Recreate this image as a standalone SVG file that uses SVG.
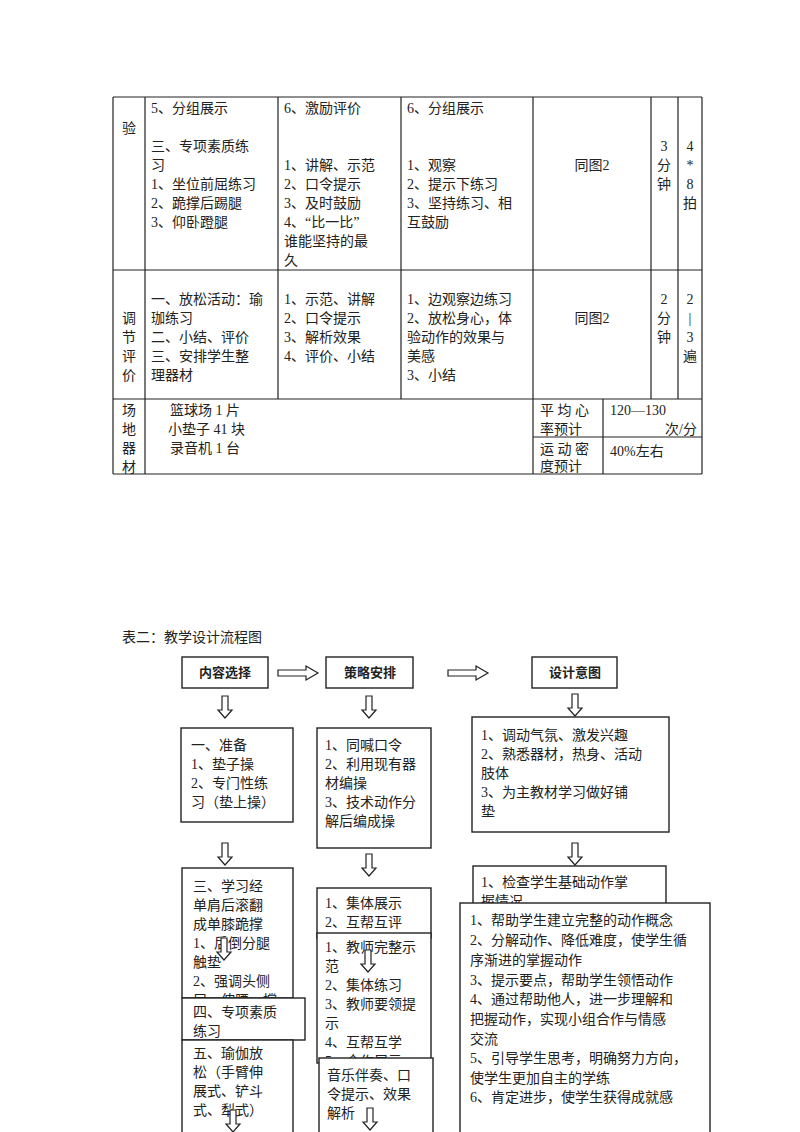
<svg xmlns="http://www.w3.org/2000/svg" width="800" height="1132" viewBox="0 0 800 1132">
<defs>
<style>
text{font-family:"Liberation Serif","Noto Sans CJK SC",serif;font-size:14px;fill:#222}
.b{font-weight:bold;font-family:"Liberation Sans","Noto Sans CJK SC",sans-serif;font-size:13px}
.l{stroke:#222;stroke-width:1.2;fill:none}
.bx{stroke:#222;stroke-width:1.4;fill:#fff}
.ar{stroke:#222;stroke-width:1.2;fill:#fff}
</style>
<clipPath id="ca2"><rect x="182" y="868" width="112" height="130"/></clipPath>
<clipPath id="cb3"><rect x="317" y="933" width="115" height="125"/></clipPath>
<clipPath id="cc2"><rect x="473" y="866" width="194" height="37"/></clipPath>
<path id="da" d="M-3,0 H3 V14 H7 L0,22 L-7,14 H-3 Z"/>
<path id="ra" d="M0,-3 H28 V-7 L40,0 L28,7 V3 H0 Z"/>
</defs>
<rect width="800" height="1132" fill="#fff"/>
<g id="table">
<path class="l" d="M113,97 H702 M113,270 H702 M113,399 H702 M113,474 H702 M533,437 H702 M113,97 V474 M145,97 V474 M278,97 V399 M401,97 V399 M533,97 V474 M651,97 V399 M678,97 V399 M702,97 V474 M603,399 V474"/>
<text x="122" y="133">验</text>
<text x="151" y="113">5、分组展示</text>
<text x="151" y="151">三、专项素质练</text>
<text x="151" y="170">习</text>
<text x="151" y="189">1、坐位前屈练习</text>
<text x="151" y="208">2、跪撑后踢腿</text>
<text x="151" y="227">3、仰卧蹬腿</text>
<text x="284" y="113">6、激励评价</text>
<text x="284" y="170">1、讲解、示范</text>
<text x="284" y="189">2、口令提示</text>
<text x="284" y="208">3、及时鼓励</text>
<text x="284" y="227">4、“比一比”</text>
<text x="284" y="246">谁能坚持的最</text>
<text x="284" y="265">久</text>
<text x="407" y="113">6、分组展示</text>
<text x="407" y="170">1、观察</text>
<text x="407" y="189">2、提示下练习</text>
<text x="407" y="208">3、坚持练习、相</text>
<text x="407" y="227">互鼓励</text>
<text x="592" y="170" text-anchor="middle">同图2</text>
<text x="664" y="151" text-anchor="middle">3</text><text x="664" y="170" text-anchor="middle">分</text><text x="664" y="189" text-anchor="middle">钟</text>
<text x="690" y="151" text-anchor="middle">4</text><text x="690" y="170" text-anchor="middle">*</text><text x="690" y="189" text-anchor="middle">8</text><text x="690" y="208" text-anchor="middle">拍</text>
<text x="122" y="323">调</text><text x="122" y="342">节</text><text x="122" y="361">评</text><text x="122" y="380">价</text>
<text x="151" y="304">一、放松活动：瑜</text>
<text x="151" y="323">珈练习</text>
<text x="151" y="342">二、小结、评价</text>
<text x="151" y="361">三、安排学生整</text>
<text x="151" y="380">理器材</text>
<text x="284" y="304">1、示范、讲解</text>
<text x="284" y="323">2、口令提示</text>
<text x="284" y="342">3、解析效果</text>
<text x="284" y="361">4、评价、小结</text>
<text x="407" y="304">1、边观察边练习</text>
<text x="407" y="323">2、放松身心，体</text>
<text x="407" y="342">验动作的效果与</text>
<text x="407" y="361">美感</text>
<text x="407" y="380">3、小结</text>
<text x="592" y="323" text-anchor="middle">同图2</text>
<text x="664" y="304" text-anchor="middle">2</text><text x="664" y="323" text-anchor="middle">分</text><text x="664" y="342" text-anchor="middle">钟</text>
<text x="690" y="304" text-anchor="middle">2</text><text x="690" y="323" text-anchor="middle">|</text><text x="690" y="342" text-anchor="middle">3</text><text x="690" y="361" text-anchor="middle">遍</text>
<text x="122" y="415">场</text><text x="122" y="434">地</text><text x="122" y="453">器</text><text x="122" y="472">材</text>
<text x="170" y="415">篮球场 1 片</text>
<text x="168" y="434">小垫子 41 块</text>
<text x="170" y="453">录音机 1 台</text>
<text x="540" y="415">平 均 心</text>
<text x="540" y="434">率预计</text>
<text x="540" y="454">运 动 密</text>
<text x="540" y="471">度预计</text>
<text x="610" y="415">120—130</text>
<text x="697" y="434" text-anchor="end">次/分</text>
<text x="610" y="456">40%左右</text>
</g>
<text x="122" y="642">表二：教学设计流程图</text>
<g id="n-h1"><rect class="bx" x="182" y="657" width="86" height="31"/><text class="b" x="225" y="677" text-anchor="middle">内容选择</text></g>
<g id="n-h2"><rect class="bx" x="326" y="657" width="87" height="31"/><text class="b" x="370" y="677" text-anchor="middle">策略安排</text></g>
<g id="n-h3"><rect class="bx" x="532" y="657" width="85" height="31"/><text class="b" x="575" y="677" text-anchor="middle">设计意图</text></g>
<g id="n-a1"><rect class="bx" x="181" y="728" width="112" height="94"/>
<text x="191" y="750">一、准备</text><text x="191" y="769">1、垫子操</text><text x="191" y="788">2、专门性练</text><text x="191" y="807">习（垫上操）</text></g>
<g id="n-b1"><rect class="bx" x="317" y="728" width="114" height="120"/>
<text x="325" y="750">1、同喊口令</text><text x="325" y="769">2、利用现有器</text><text x="325" y="788">材编操</text><text x="325" y="807">3、技术动作分</text><text x="325" y="826">解后编成操</text></g>
<g id="n-c1"><rect class="bx" x="472" y="717" width="197" height="115"/>
<text x="481" y="740">1、调动气氛、激发兴趣</text><text x="481" y="759">2、熟悉器材，热身、活动</text><text x="481" y="778">肢体</text><text x="481" y="797">3、为主教材学习做好铺</text><text x="481" y="816">垫</text></g>
<g id="n-a2"><rect class="bx" x="182" y="868" width="111" height="130"/>
<g clip-path="url(#ca2)"><text x="193" y="891">三、学习经</text><text x="193" y="910">单肩后滚翻</text><text x="193" y="929">成单膝跪撑</text><text x="193" y="948">1、后倒分腿</text><text x="193" y="967">触垫</text><text x="193" y="986">2、强调头侧</text><text x="193" y="1005">屈，伸腰，撑</text></g></g>
<g id="n-a3"><rect class="bx" x="182" y="998" width="123" height="42"/>
<text x="193" y="1017">四、专项素质</text><text x="193" y="1036">练习</text></g>
<g id="n-a4"><rect class="bx" x="182" y="1040" width="111" height="100"/>
<text x="193" y="1058">五、瑜伽放</text><text x="193" y="1077">松（手臂伸</text><text x="193" y="1096">展式、铲斗</text><text x="193" y="1115">式、犁式）</text></g>
<g id="n-b2"><rect class="bx" x="317" y="888" width="114" height="50"/>
<text x="325" y="908">1、集体展示</text><text x="325" y="927">2、互帮互评</text></g>
<g id="n-b3"><rect class="bx" x="317" y="933" width="114" height="130"/>
<g clip-path="url(#cb3)"><text x="325" y="952">1、教师完整示</text><text x="325" y="971">范</text><text x="325" y="990">2、集体练习</text><text x="325" y="1009">3、教师要领提</text><text x="325" y="1028">示</text><text x="325" y="1047">4、互帮互学</text><text x="325" y="1066">5、合作展示</text></g></g>
<g id="n-b4"><rect class="bx" x="319" y="1058" width="114" height="80"/>
<text x="327" y="1080">音乐伴奏、口</text><text x="327" y="1099">令提示、效果</text><text x="327" y="1118">解析</text></g>
<g id="n-c2"><rect class="bx" x="473" y="866" width="193" height="45"/>
<g clip-path="url(#cc2)"><text x="481" y="887">1、检查学生基础动作掌</text><text x="481" y="906">握情况</text></g></g>
<g id="n-c3"><rect class="bx" x="460" y="903" width="250" height="235"/>
<text x="470" y="925">1、帮助学生建立完整的动作概念</text><text x="470" y="945">2、分解动作、降低难度，使学生循</text><text x="470" y="965">序渐进的掌握动作</text><text x="470" y="985">3、提示要点，帮助学生领悟动作</text><text x="470" y="1004">4、通过帮助他人，进一步理解和</text><text x="470" y="1024">把握动作，实现小组合作与情感</text><text x="470" y="1044">交流</text><text x="470" y="1063">5、引导学生思考，明确努力方向，</text><text x="470" y="1083">使学生更加自主的学练</text><text x="470" y="1102">6、肯定进步，使学生获得成就感</text></g>
<g id="connectors" class="ar">
<use href="#ra" x="278" y="673"/><use href="#ra" x="448" y="673"/>
<use href="#da" x="225" y="696"/><use href="#da" x="369" y="696"/><use href="#da" x="575" y="694"/>
<use href="#da" x="225" y="843"/><use href="#da" x="369" y="854"/><use href="#da" x="575" y="843"/>
<use href="#da" x="224" y="938"/><use href="#da" x="368" y="950"/>
<use href="#da" x="233" y="1110"/><use href="#da" x="370" y="1108"/>
</g>
</svg>
